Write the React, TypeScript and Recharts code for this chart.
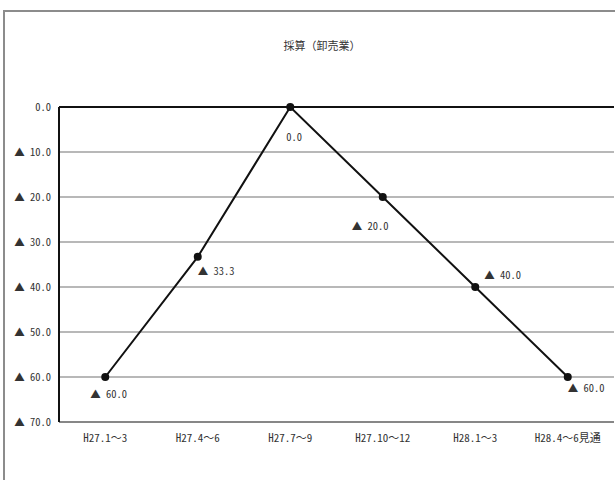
import React from 'react';
import {
  LineChart,
  Line,
  XAxis,
  YAxis,
  CartesianGrid,
  ReferenceLine,
  LabelList,
} from 'recharts';

// 期間 (categories)
const periods = ['H27.1～3', 'H27.4～6', 'H27.7～9', 'H27.10～12', 'H28.1～3', 'H28.4～6見通'];
// 採算 DI (negative = ▲)
const saisan = [-60.0, -33.3, 0.0, -20.0, -40.0, -60.0];
const yTicks = [-70, -60, -50, -40, -30, -20, -10, 0];

const data = periods.map((p, i) => ({ period: p, value: saisan[i] }));

const FONT = '"Noto Sans Mono CJK JP", "Noto Sans CJK JP", "DejaVu Sans", sans-serif';

// where each data label sits relative to its point (Excel-ish auto placement)
const labelShift = [
  { dx: -15, dy: 16 },
  { dx: 0, dy: 14 },
  { dx: -4, dy: 29 },
  { dx: -31, dy: 28 },
  { dx: 9, dy: -13 },
  { dx: 0, dy: 10 },
];

const fmt = (v: number) => (v === 0 ? '0.0' : `▲ ${Math.abs(v).toFixed(1)}`);

const PointLabel = (props: any) => {
  const { x, y, value, index } = props;
  const s = labelShift[index] || { dx: 0, dy: 12 };
  return (
    <text
      x={x + s.dx}
      y={y + s.dy}
      dominantBaseline="central"
      fontSize={10.5}
      fill="#333"
      fontFamily={FONT}
    >
      {fmt(value)}
    </text>
  );
};

export default function App() {
  return (
    <div
      style={{
        position: 'fixed',
        left: 0,
        top: 0,
        width: 615,
        height: 480,
        overflow: 'hidden',
        background: '#fff',
      }}
    >
      {/* chart area border, runs off the right/bottom edge */}
      <div
        style={{
          position: 'absolute',
          left: 3,
          top: 10,
          width: 700,
          height: 600,
          border: '2px solid #8c8c8c',
          boxSizing: 'border-box',
        }}
      />
      <div
        style={{
          position: 'absolute',
          left: 222,
          width: 200,
          top: 37,
          textAlign: 'center',
          fontFamily: FONT,
          fontSize: 11,
          color: '#333',
        }}
      >
        採算（卸売業）
      </div>
      <div style={{ position: 'absolute', left: 0, top: 0 }}>
        <LineChart
          width={640}
          height={480}
          data={data}
          margin={{ top: 107, right: 26, bottom: 28, left: 0 }}
        >
          <CartesianGrid vertical={false} stroke="#a0a0a0" strokeWidth={1.5} />
          <XAxis
            dataKey="period"
            scale="band"
            axisLine={false}
            tickLine={false}
            height={30}
            tickMargin={6}
            interval={0}
            tick={{ fontSize: 11, fill: '#333', fontFamily: FONT }}
          />
          <YAxis
            type="number"
            domain={[-70, 0]}
            ticks={yTicks}
            width={59}
            tickLine={false}
            axisLine={{ stroke: '#111', strokeWidth: 2 }}
            tickFormatter={fmt}
            tick={{ fontSize: 10.5, fill: '#333', fontFamily: FONT }}
          />
          <ReferenceLine y={-70} stroke="#777" strokeWidth={1.5} />
          <ReferenceLine y={0} stroke="#111" strokeWidth={2} />
          <Line
            type="linear"
            dataKey="value"
            stroke="#111"
            strokeWidth={2}
            dot={{ r: 4, fill: '#111', stroke: '#111', strokeWidth: 0 }}
            activeDot={false}
            isAnimationActive={false}
          >
            <LabelList dataKey="value" content={PointLabel} />
          </Line>
        </LineChart>
      </div>
    </div>
  );
}
